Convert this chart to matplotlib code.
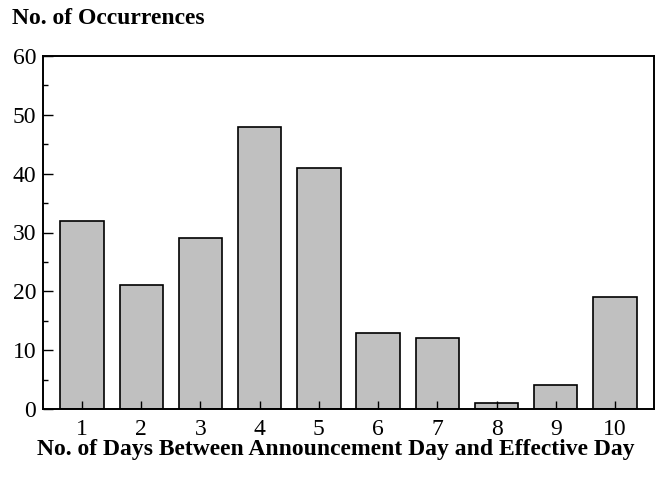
import numpy as np
import matplotlib.pyplot as plt
from matplotlib.ticker import MultipleLocator

days = [1, 2, 3, 4, 5, 6, 7, 8, 9, 10]
occurrences = [32, 21, 29, 48, 41, 13, 12, 1, 4, 19]
yticks = [0, 10, 20, 30, 40, 50, 60]

plt.rcParams['font.family'] = ['Liberation Serif', 'DejaVu Serif']

fig = plt.figure(figsize=(6.62, 4.83), dpi=100)
ax = fig.add_axes([43 / 662, 1 - 409 / 483, (654 - 43) / 662, (409 - 56) / 483])

ax.bar(days, occurrences, width=0.73, color='#c0c0c0', edgecolor='black',
       linewidth=1.2, zorder=2)

ax.set_xlim(0.34, 10.66)
ax.set_ylim(0, 60)
ax.set_xticks(days)
ax.set_yticks(yticks)
ax.yaxis.set_minor_locator(MultipleLocator(5))
ax.tick_params(axis='both', which='both', direction='in', labelsize=17,
               top=False, right=False, width=1.0)
ax.tick_params(axis='y', which='major', length=7, pad=5)
ax.tick_params(axis='y', which='minor', length=3.6)
ax.tick_params(axis='x', which='major', length=6, pad=7.5)
ax.xaxis.set_zorder(3)
for s in ax.spines.values():
    s.set_linewidth(1.4)
    s.set_zorder(4)
ax.set_axisbelow(False)

fig.text(12 / 662, 1 - 18 / 483, 'No. of Occurrences', fontsize=17,
         fontweight='bold', ha='left', va='center')
fig.text(336 / 662, 1 - 450 / 483,
         'No. of Days Between Announcement Day and Effective Day',
         fontsize=17, fontweight='bold', ha='center', va='center')

fig.savefig('out.png', dpi=100)
